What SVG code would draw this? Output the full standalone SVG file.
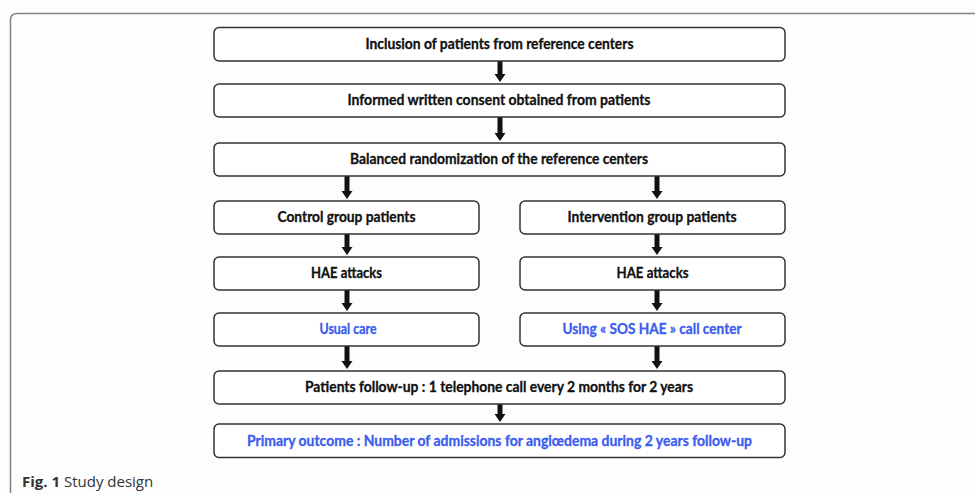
<svg xmlns="http://www.w3.org/2000/svg" width="975" height="493" viewBox="0 0 975 493">
<style>
.bg{fill:#fdfdfd}
.frame{fill:none;stroke:#858585;stroke-width:1.5}
.box{fill:#ffffff;stroke:#333333;stroke-width:1.5}
.t{font-family:Lato,"Open Sans","Liberation Sans",sans-serif;font-weight:bold;font-size:14.5px;fill:#111111;stroke:#111111;stroke-width:0.3;text-anchor:middle}
.b{fill:#3a5cf0;stroke:#3a5cf0}
.arr{fill:#111111}
.cap{font-family:"Open Sans","Liberation Sans",sans-serif;font-size:15px;fill:#333333}
</style>
<rect class="bg" x="0" y="0" width="975" height="493"/>
<path class="frame" d="M10.5 493 V20 Q10.5 13.5 17 13.5 H975"/>
<g id="connectors">
<polygon class="arr" points="497.5,61 502.5,61 502.5,74 505.5,74 500,82 494.5,74 497.5,74"/>
<polygon class="arr" points="497.5,117 502.5,117 502.5,133 505.5,133 500,141 494.5,133 497.5,133"/>
<polygon class="arr" points="344.5,176 349.5,176 349.5,191 352.5,191 347,199 341.5,191 344.5,191"/>
<polygon class="arr" points="654.5,176 659.5,176 659.5,191 662.5,191 657,199 651.5,191 654.5,191"/>
<polygon class="arr" points="344.5,234 349.5,234 349.5,247 352.5,247 347,255 341.5,247 344.5,247"/>
<polygon class="arr" points="654.5,234 659.5,234 659.5,247 662.5,247 657,255 651.5,247 654.5,247"/>
<polygon class="arr" points="344.5,290 349.5,290 349.5,303 352.5,303 347,311 341.5,303 344.5,303"/>
<polygon class="arr" points="654.5,290 659.5,290 659.5,303 662.5,303 657,311 651.5,303 654.5,303"/>
<polygon class="arr" points="344.5,346 349.5,346 349.5,361 352.5,361 347,369 341.5,361 344.5,361"/>
<polygon class="arr" points="654.5,346 659.5,346 659.5,361 662.5,361 657,369 651.5,361 654.5,361"/>
<polygon class="arr" points="497.5,404 502.5,404 502.5,414 505.5,414 500,422 494.5,414 497.5,414"/>
</g>
<g id="inclusion">
<rect class="box" x="214" y="27.5" width="571" height="33.5" rx="5"/>
<text class="t" x="499.5" y="49" textLength="268" lengthAdjust="spacingAndGlyphs">Inclusion of patients from reference centers</text>
</g>
<g id="consent">
<rect class="box" x="214" y="84" width="571" height="33" rx="5"/>
<text class="t" x="499" y="105" textLength="303" lengthAdjust="spacingAndGlyphs">Informed written consent obtained from patients</text>
</g>
<g id="randomization">
<rect class="box" x="214" y="143" width="571" height="33" rx="5"/>
<text class="t" x="499" y="164" textLength="298" lengthAdjust="spacingAndGlyphs">Balanced randomization of the reference centers</text>
</g>
<g id="control">
<rect class="box" x="214" y="201" width="265" height="33" rx="5"/>
<text class="t" x="346.5" y="222" textLength="138" lengthAdjust="spacingAndGlyphs">Control group patients</text>
</g>
<g id="intervention">
<rect class="box" x="520" y="201" width="265" height="33" rx="5"/>
<text class="t" x="652" y="222" textLength="169" lengthAdjust="spacingAndGlyphs">Intervention group patients</text>
</g>
<g id="hae-left">
<rect class="box" x="214" y="257" width="265" height="33" rx="5"/>
<text class="t" x="346.5" y="278" textLength="71" lengthAdjust="spacingAndGlyphs">HAE attacks</text>
</g>
<g id="hae-right">
<rect class="box" x="520" y="257" width="265" height="33" rx="5"/>
<text class="t" x="652.5" y="278" textLength="72" lengthAdjust="spacingAndGlyphs">HAE attacks</text>
</g>
<g id="usual-care">
<rect class="box" x="214" y="313" width="265" height="33" rx="5"/>
<text class="t b" x="348" y="334" textLength="57" lengthAdjust="spacingAndGlyphs">Usual care</text>
</g>
<g id="sos-hae">
<rect class="box" x="520" y="313" width="265" height="33" rx="5"/>
<text class="t b" x="652" y="334" textLength="179" lengthAdjust="spacingAndGlyphs">Using « SOS HAE » call center</text>
</g>
<g id="follow-up">
<rect class="box" x="214" y="371" width="571" height="33" rx="5"/>
<text class="t" x="499" y="392" textLength="388" lengthAdjust="spacingAndGlyphs">Patients follow-up : 1 telephone call every 2 months for 2 years</text>
</g>
<g id="outcome">
<rect class="box" x="214" y="424" width="571" height="33.5" rx="5"/>
<text class="t b" x="499.5" y="446" textLength="505" lengthAdjust="spacingAndGlyphs">Primary outcome : Number of admissions for angiœdema during 2 years follow-up</text>
</g>
<text class="cap" x="22" y="487"><tspan font-weight="bold">Fig. 1</tspan> Study design</text>
</svg>
